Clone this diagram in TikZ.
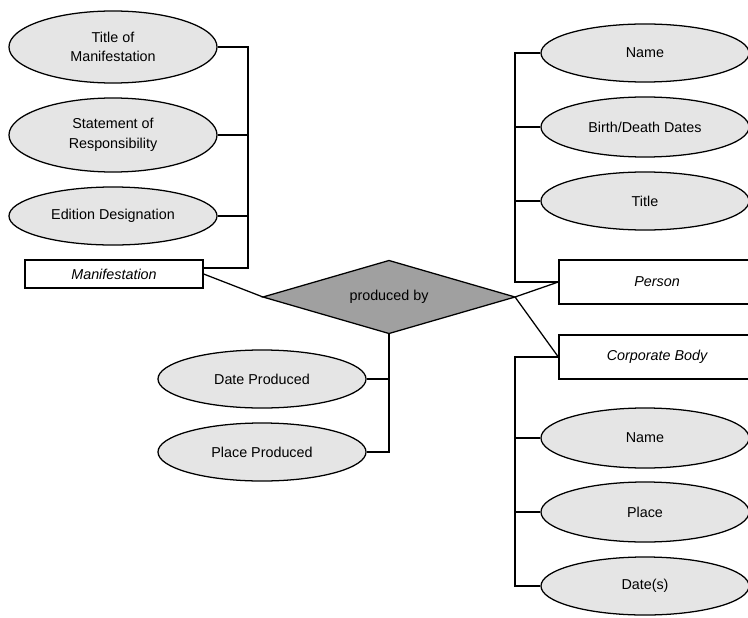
\documentclass[tikz,border=0pt]{standalone}
\usepackage{fontspec}
\setmainfont{Liberation Sans}
\usetikzlibrary{shapes.geometric}
\definecolor{AttrColor}{RGB}{229,229,229}
\definecolor{RelColor}{RGB}{160,160,160}

\begin{document}
\begin{tikzpicture}[
    x=0.025cm, y=-0.025cm,
    every node/.style={font=\fontsize{10.2}{14}\selectfont},
    line width=0.9pt,
    attr/.style={ellipse, draw, fill=AttrColor, minimum width=5.2cm,
        minimum height=1.45cm, inner sep=0pt, align=center},
    entity/.style={rectangle, draw, fill=white, inner sep=0pt,
        font=\fontsize{10.2}{14}\selectfont\itshape},
    relation/.style={diamond, draw, fill=RelColor, minimum width=6.3cm,
        minimum height=1.825cm, aspect=3.45, inner sep=0pt, outer sep=0pt},
]

% Frame (748 x 617 px)
\useasboundingbox (0,0) rectangle (748,617);
\clip (0,0) rectangle (748,617);

% Relationship
\node[relation] (rel) at (389,297) {produced by};

% Manifestation side
\node[attr, minimum height=1.8cm] (mtitle) at (113,47) {Title of\\Manifestation};
\node[attr, minimum height=1.85cm] (mresp) at (113,135) {Statement of\\Responsibility};
\node[attr] (medit) at (113,216) {Edition Designation};
\node[entity, minimum width=4.45cm, minimum height=0.7cm] (manif) at (114,274) {Manifestation};
\coordinate (mbus) at (248,0);

\draw (mtitle.east) -- (mtitle.east -| mbus) -- ([yshift=0.15cm]manif.east -| mbus)
    -- ([yshift=0.15cm]manif.east);
\draw (mresp.east) -- (mresp.east -| mbus);
\draw (medit.east) -- (medit.east -| mbus);
\draw (manif.east) -- (rel.west);

% Attributes of the relationship
\node[attr] (date) at (262,379) {Date Produced};
\node[attr] (place) at (262,452) {Place Produced};

\draw (rel.south) -- (rel.south |- place.east) -- (place.east);
\draw (date.east) -- (date.east -| rel.south);

% Person side
\node[attr] (pname) at (645,53) {Name};
\node[attr, minimum height=1.5cm] (pdates) at (645,127) {Birth/Death Dates};
\node[attr] (ptitle) at (645,201) {Title};
\node[entity, minimum width=4.9cm, minimum height=1.1cm] (person) at (657,282) {Person};
\coordinate (pbus) at (515,0);

\draw (pname.west) -- (pname.west -| pbus) -- (person.west -| pbus) -- (person.west);
\draw (pdates.west) -- (pdates.west -| pbus);
\draw (ptitle.west) -- (ptitle.west -| pbus);
\draw (rel.east) -- (person.west);

% Corporate body side
\node[entity, minimum width=4.9cm, minimum height=1.1cm] (corp) at (657,357) {Corporate Body};
\node[attr, minimum height=1.5cm] (cname) at (645,438) {Name};
\node[attr, minimum height=1.5cm] (cplace) at (645,512) {Place};
\node[attr] (cdates) at (645,586) {Date(s)};

\draw (rel.east) -- (corp.west);
\draw (corp.west) -- (corp.west -| pbus) -- (cdates.west -| pbus) -- (cdates.west);
\draw (cname.west) -- (cname.west -| pbus);
\draw (cplace.west) -- (cplace.west -| pbus);

\end{tikzpicture}
\end{document}
